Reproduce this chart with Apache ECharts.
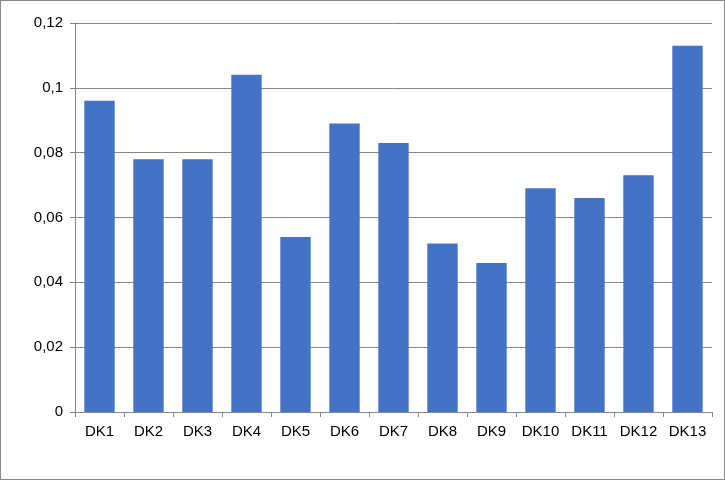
<!DOCTYPE html>
<html><head><meta charset="utf-8">
<script src="https://cdn.jsdelivr.net/npm/echarts@6/dist/echarts.min.js"></script>
<style>html,body{margin:0;padding:0;}#c{width:723px;height:478px;border:1px solid #868686;}</style>
</head><body><div id="c"></div>
<script>
var categories=["DK1","DK2","DK3","DK4","DK5","DK6","DK7","DK8","DK9","DK10","DK11","DK12","DK13"];
var values=[0.096,0.078,0.078,0.104,0.054,0.089,0.083,0.052,0.046,0.069,0.066,0.073,0.113];
var chart=echarts.init(document.getElementById('c'));
chart.setOption({
 animation:false,
 grid:{left:74,right:12,top:22,bottom:67},
 xAxis:{type:'category',data:categories,axisTick:{show:true,alignWithLabel:false,length:5,lineStyle:{color:'#868686'}},
  axisLine:{lineStyle:{color:'#868686'}},axisLabel:{color:'#000',fontSize:15,fontFamily:'Liberation Sans',margin:12}},
 yAxis:{type:'value',min:0,max:0.12,interval:0.02,
  axisLine:{show:true,lineStyle:{color:'#868686'}},axisTick:{show:true,length:5,lineStyle:{color:'#868686'}},
  splitLine:{lineStyle:{color:'#868686'}},
  axisLabel:{color:'#000',fontSize:15,fontFamily:'Liberation Sans',margin:12,formatter:function(v){return v===0?'0':String(+v.toFixed(2)).replace('.',',');}}},
 series:[{type:'bar',data:values,barWidth:'62%',itemStyle:{color:'#4472C4'}}]
});
</script></body></html>
